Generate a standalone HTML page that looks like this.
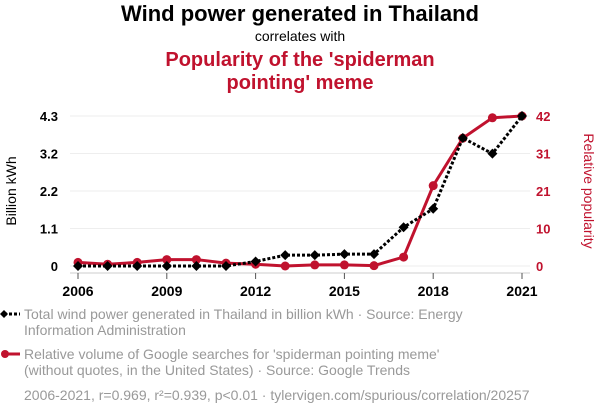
<!DOCTYPE html>
<html><head><meta charset="utf-8"><style>
body{margin:0;background:#fff;font-family:"Liberation Sans",sans-serif}
svg{display:block}
</style></head><body>
<svg id="c" width="600" height="414">
<text x="300" y="21" text-anchor="middle" font-size="22" font-weight="bold" fill="#000">Wind power generated in Thailand</text>
<text x="300" y="41" text-anchor="middle" font-size="14" fill="#000">correlates with</text>
<text x="300" y="66" text-anchor="middle" font-size="20" font-weight="bold" fill="#c0122e">Popularity of the 'spiderman</text>
<text x="300" y="89" text-anchor="middle" font-size="20" font-weight="bold" fill="#c0122e">pointing' meme</text>
<text transform="translate(16,191) rotate(-90)" text-anchor="middle" font-size="14" fill="#000">Billion kWh</text>
<text transform="translate(584,191) rotate(90)" text-anchor="middle" font-size="14" fill="#c0122e">Relative popularity</text>
<g id="grid"></g><g id="axes"></g><g id="series"></g>
<g>
<line x1="4" y1="314" x2="20" y2="314" stroke="#000" stroke-width="3" stroke-dasharray="3,2"/>
<path d="M4 310 L8 314 L4 318 L0 314Z" fill="#000"/>
<text x="24" y="319" font-size="14" fill="#999">Total wind power generated in Thailand in billion kWh · Source: Energy</text>
<text x="24" y="335" font-size="14" fill="#999">Information Administration</text>
</g>
<g>
<line x1="4" y1="354" x2="20" y2="354" stroke="#c0122e" stroke-width="3"/>
<circle cx="5" cy="354" r="4" fill="#c0122e"/>
<text x="24" y="359" font-size="14" fill="#999">Relative volume of Google searches for 'spiderman pointing meme'</text>
<text x="24" y="375" font-size="14" fill="#999">(without quotes, in the United States) · Source: Google Trends</text>
</g>
<text x="24" y="400" font-size="14" fill="#999">2006-2021, r=0.969, r²=0.939, p&lt;0.01 · tylervigen.com/spurious/correlation/20257</text>
</svg>
<script>
const years=[2006,2007,2008,2009,2010,2011,2012,2013,2014,2015,2016,2017,2018,2019,2020,2021];
const wind=[0,0,0,0,0,0,0.13,0.31,0.31,0.34,0.34,1.11,1.64,3.67,3.22,4.3];
const meme=[1.0,0.5,1.0,1.8,1.8,0.8,0.5,0,0.3,0.3,0.1,2.5,22.5,35.8,41.5,42];
const leftTicks=[0,1.075,2.15,3.225,4.3];
const leftLabels=["0","1.1","2.2","3.2","4.3"];
const rightTicks=[0,10.5,21,31.5,42];
const rightLabels=["0","10","21","31","42"];
const xTicks=[2006,2009,2012,2015,2018,2021];
const NS="http://www.w3.org/2000/svg";
const X=y=>78+(y-2006)/15*444;
const YL=v=>266-v/4.3*150;
const YR=v=>266-v/42*150;
function mk(t,a,p){const e=document.createElementNS(NS,t);for(const k in a)e.setAttribute(k,a[k]);p.appendChild(e);return e;}
const grid=document.getElementById('grid'),axes=document.getElementById('axes'),ser=document.getElementById('series');
leftTicks.forEach((v,i)=>{
 const g=mk('line',{x1:70,x2:530,y1:YL(v),y2:YL(v),stroke:'#eee','stroke-width':1},grid);
 
 
 const t=mk('text',{x:58,y:YL(v)+5,'text-anchor':'end','font-size':13,'font-weight':'bold',fill:'#000'},axes);t.textContent=leftLabels[i];
 
 
});
rightTicks.forEach((v,i)=>{
 const t=mk('text',{x:536,y:YR(v)+5,'font-size':13,'font-weight':'bold',fill:'#c0122e'},axes);t.textContent=rightLabels[i];
 
 
});
mk('line',{x1:70,x2:530,y1:273,y2:273,stroke:'#ccc'},axes);
xTicks.forEach(y=>{
 mk('line',{x1:X(y),x2:X(y),y1:273,y2:279,stroke:'#555'},axes);
 const t=mk('text',{x:X(y),y:296,'text-anchor':'middle','font-size':14,'font-weight':'bold',fill:'#000'},axes);t.textContent=y;
 
 
});
const rp=mk('polyline',{points:years.map((y,i)=>X(y)+','+YR(meme[i])).join(' '),fill:'none',stroke:'#c0122e','stroke-width':3},ser);


years.forEach((y,i)=>{const c=mk('circle',{cx:X(y),cy:YR(meme[i]),r:4.5,fill:'#c0122e'},ser);
 
 });
const bp=mk('polyline',{points:years.map((y,i)=>X(y)+','+YL(wind[i])).join(' '),fill:'none',stroke:'#000','stroke-width':3,'stroke-dasharray':'3,2'},ser);


years.forEach((y,i)=>{const x=X(y),v=YL(wind[i]);
 const d=mk('path',{d:`M${x} ${v-5}L${x+5} ${v}L${x} ${v+5}L${x-5} ${v}Z`,fill:'#000'},ser);
 
 });
</script>
</body></html>
